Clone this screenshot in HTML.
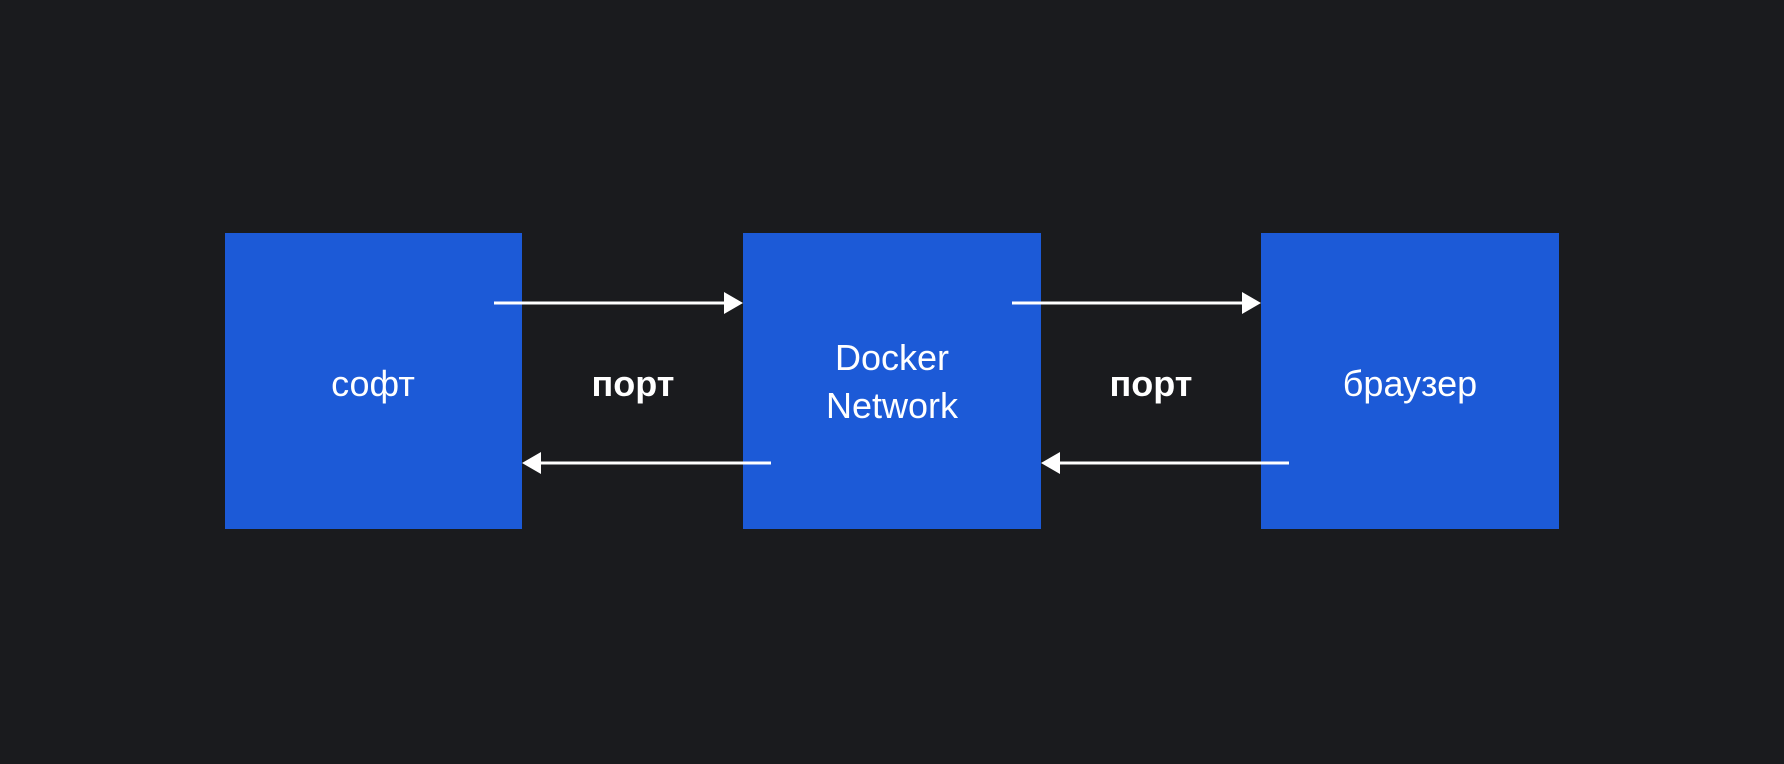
<!DOCTYPE html>
<html><head><meta charset="utf-8"><style>
html,body{margin:0;padding:0;background:#1a1b1e;}
svg{display:block}
text{font-family:"Liberation Sans","DejaVu Sans",sans-serif;fill:#fff;}
</style></head><body>
<svg width="1784" height="764" viewBox="0 0 1784 764">
<rect width="1784" height="764" fill="#1a1b1e"/>
<rect x="225" y="233" width="297" height="296" fill="#1c5ad7"/>
<rect x="743" y="233" width="298" height="296" fill="#1c5ad7"/>
<rect x="1261" y="233" width="298" height="296" fill="#1c5ad7"/>
<g stroke="#fff" stroke-width="3">
<line x1="494" y1="303" x2="726" y2="303"/>
<line x1="1012" y1="303" x2="1244" y2="303"/>
<line x1="771" y1="463" x2="539" y2="463"/>
<line x1="1289" y1="463" x2="1058" y2="463"/>
</g>
<g fill="#fff">
<polygon points="743,303 724,292 724,314"/>
<polygon points="1261,303 1242,292 1242,314"/>
<polygon points="522,463 541,452 541,474"/>
<polygon points="1041,463 1060,452 1060,474"/>
</g>
<g font-size="36" text-anchor="middle">
<text x="373" y="396">софт</text>
<text x="892" y="370">Docker</text>
<text x="892" y="418">Network</text>
<text x="1410" y="396">браузер</text>
<text x="633" y="396" font-weight="bold">порт</text>
<text x="1151" y="396" font-weight="bold">порт</text>
</g>
</svg>
</body></html>
